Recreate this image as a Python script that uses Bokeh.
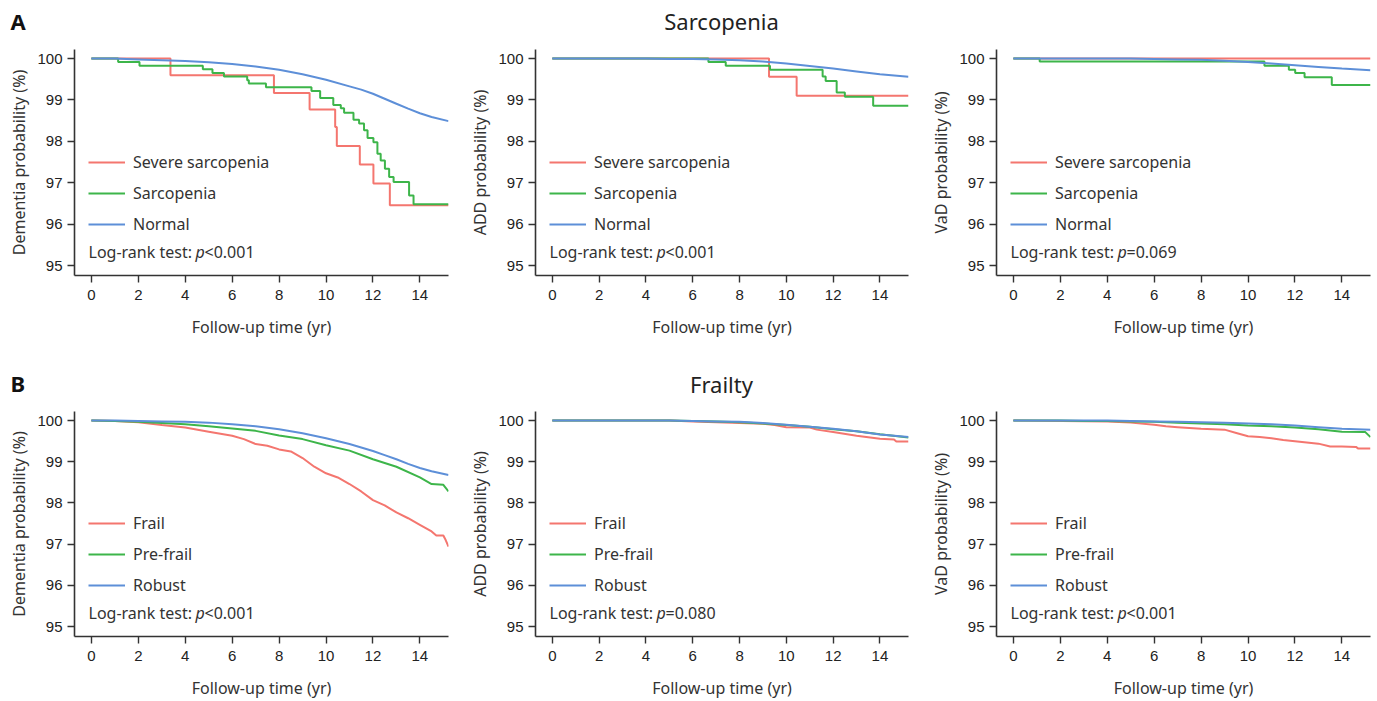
from bokeh.plotting import figure
from bokeh.models import Range1d, FixedTicker, Legend, LegendItem, Label
from bokeh.layouts import row, column
from bokeh.embed import file_html
from bokeh.resources import INLINE

RED = "#F4766F"
GREEN = "#3DB54A"
BLUE = "#5D8FD8"
TXT = "#333333"

# ---------------- data ----------------
years = [0, 1, 2, 3, 4, 5, 6, 7, 8, 9, 10, 11, 12, 13, 14, 15.22]
x_ticks = [0, 2, 4, 6, 8, 10, 12, 14]
y_ticks = [95, 96, 97, 98, 99, 100]

# A: Sarcopenia
a_labels = ["Severe sarcopenia", "Sarcopenia", "Normal"]
# Dementia
a1_sev_t = [0, 3.37, 7.78, 9.30, 10.39, 10.46, 11.44, 12.02, 12.72, 15.22]
a1_sev_y = [100, 99.60, 99.17, 98.77, 98.35, 97.89, 97.44, 96.98, 96.46, 96.46]
a1_sar_t = [0, 1.14, 2.05, 4.75, 5.16, 5.65, 6.64, 6.71, 7.44, 9.38, 9.75, 10.31, 10.63, 10.77,
            11.17, 11.41, 11.62, 11.77, 12.02, 12.19, 12.33, 12.51, 12.69, 12.88, 13.54, 13.73, 15.22]
a1_sar_y = [100, 99.92, 99.83, 99.74, 99.65, 99.57, 99.48, 99.40, 99.31, 99.22, 99.05, 98.88, 98.80, 98.69,
            98.52, 98.43, 98.27, 98.08, 97.98, 97.70, 97.54, 97.34, 97.14, 97.02, 96.69, 96.48, 96.48]
a1_nor_t = [0, 1, 2, 3, 4, 5, 6, 7, 8, 9, 10, 11, 11.5, 12, 12.5, 13, 13.5, 14, 14.5, 15.22]
a1_nor_y = [100, 100, 99.98, 99.96, 99.94, 99.91, 99.87, 99.81, 99.73, 99.62, 99.49, 99.33, 99.25, 99.15,
            99.03, 98.91, 98.79, 98.68, 98.59, 98.49]
# ADD
a2_sev_t = [0, 9.26, 10.44, 15.22]
a2_sev_y = [100, 99.56, 99.10, 99.10]
a2_sar_t = [0, 6.67, 7.41, 9.30, 11.55, 11.68, 12.15, 12.50, 13.71, 15.22]
a2_sar_y = [100, 99.92, 99.83, 99.73, 99.57, 99.46, 99.18, 99.08, 98.86, 98.86]
a2_nor_y = [100, 100, 100, 100, 100, 99.99, 99.99, 99.98, 99.96, 99.93, 99.88, 99.82, 99.76, 99.69, 99.62, 99.56]
# VaD
a3_sev_t = [0, 15.22]
a3_sev_y = [100, 100]
a3_sar_t = [0, 1.12, 10.70, 11.74, 12.01, 12.41, 13.57, 15.22]
a3_sar_y = [100, 99.93, 99.83, 99.73, 99.65, 99.55, 99.36, 99.36]
a3_nor_y = [100, 100, 100, 100, 100, 100, 99.99, 99.98, 99.97, 99.95, 99.92, 99.88, 99.84, 99.80, 99.76, 99.72]

# B: Frailty
b_labels = ["Frail", "Pre-frail", "Robust"]
# Dementia
b1_fra_t = [0, 1, 2, 3, 4, 5, 6, 6.5, 7, 7.5, 8, 8.5, 9, 9.5, 10, 10.5, 11, 11.5, 12, 12.5, 13, 13.5,
            14, 14.5, 14.7, 15.0, 15.1, 15.22]
b1_fra_y = [100, 99.99, 99.96, 99.89, 99.83, 99.73, 99.63, 99.55, 99.43, 99.39, 99.30, 99.25, 99.09, 98.88,
            98.72, 98.62, 98.46, 98.28, 98.07, 97.94, 97.77, 97.63, 97.47, 97.31, 97.21, 97.21, 97.10, 96.94]
b1_pre_t = [0, 1, 2, 3, 4, 5, 6, 7, 8, 9, 10, 11, 12, 13, 14, 14.5, 15.0, 15.22]
b1_pre_y = [100, 99.99, 99.97, 99.94, 99.91, 99.86, 99.81, 99.75, 99.64, 99.55, 99.40, 99.27, 99.06, 98.88,
            98.62, 98.46, 98.44, 98.28]
b1_rob_t = [0, 1, 2, 3, 4, 5, 6, 7, 8, 9, 10, 11, 12, 12.5, 13, 13.5, 14, 14.5, 15.22]
b1_rob_y = [100, 100, 99.99, 99.98, 99.97, 99.95, 99.91, 99.86, 99.79, 99.69, 99.57, 99.43, 99.26, 99.16,
            99.06, 98.95, 98.85, 98.77, 98.68]
# ADD
b2_fra_t = [0, 5, 6, 7, 8, 9, 9.5, 10, 11, 11.3, 12, 13, 14, 14.6, 14.7, 15.22]
b2_fra_y = [100, 100, 99.98, 99.96, 99.94, 99.92, 99.89, 99.84, 99.83, 99.78, 99.72, 99.63, 99.56, 99.54, 99.49, 99.49]
b2_pre_y = [100, 100, 100, 100, 100, 100, 99.99, 99.98, 99.96, 99.93, 99.89, 99.85, 99.79, 99.74, 99.67, 99.59]
b2_rob_y = [100, 100, 100, 100, 100, 100, 99.99, 99.98, 99.97, 99.94, 99.90, 99.85, 99.80, 99.74, 99.66, 99.60]
# VaD
b3_fra_t = [0, 4, 5, 6, 6.5, 7, 8, 9, 9.5, 10, 10.5, 11, 11.5, 12, 12.5, 13, 13.5, 14, 14.6, 14.7, 15.22]
b3_fra_y = [100, 99.98, 99.95, 99.90, 99.86, 99.84, 99.80, 99.78, 99.70, 99.62, 99.60, 99.57, 99.53, 99.50,
            99.47, 99.44, 99.37, 99.37, 99.36, 99.32, 99.32]
b3_pre_t = [0, 1, 2, 3, 4, 5, 6, 7, 8, 9, 10, 11, 12, 13, 14, 15.0, 15.22]
b3_pre_y = [100, 100, 100, 99.99, 99.99, 99.98, 99.97, 99.95, 99.93, 99.91, 99.88, 99.86, 99.83, 99.79, 99.73, 99.72, 99.60]
b3_rob_y = [100, 100, 100, 100, 100, 99.99, 99.98, 99.97, 99.96, 99.95, 99.93, 99.91, 99.88, 99.84, 99.80, 99.78]

FRAME_H = 226
PAGE_W = 1377


def make_header(height, letter, title, letter_y, title_y):
    h = figure(width=PAGE_W, height=height, output_backend="svg", toolbar_location=None,
               x_range=Range1d(0, PAGE_W), y_range=Range1d(height, 0),
               x_axis_type=None, y_axis_type=None,
               min_border_left=0, min_border_right=0, min_border_top=0, min_border_bottom=0)
    h.outline_line_color = None
    h.xgrid.visible = False
    h.ygrid.visible = False
    h.add_layout(Label(x=10, y=letter_y, text=letter, text_align="left", text_baseline="middle",
                       text_font="Noto Sans", text_font_style="bold", text_font_size="22px",
                       text_color="#111111"))
    h.add_layout(Label(x=721, y=title_y, text=title, text_align="center", text_baseline="middle",
                       text_font="Noto Sans", text_font_size="22px", text_color="#222222"))
    return h


def make_panel(width, height, bl, br, bt, ylabel, series, labels, pv_op, pv_val):
    bb = height - bt - FRAME_H
    p = figure(width=width, height=height, output_backend="svg", toolbar_location=None,
               x_range=Range1d(-0.72, 15.22), y_range=Range1d(94.76, 100.22),
               min_border_left=bl, min_border_right=br, min_border_top=bt, min_border_bottom=bb,
               x_axis_label="Follow-up time (yr)", y_axis_label=ylabel)
    p.outline_line_color = None
    p.xgrid.visible = False
    p.ygrid.visible = False
    p.xaxis.ticker = FixedTicker(ticks=x_ticks)
    p.yaxis.ticker = FixedTicker(ticks=y_ticks)
    for ax in (p.xaxis[0], p.yaxis[0]):
        ax.axis_line_color = TXT
        ax.axis_line_width = 1.6
        ax.major_tick_line_color = TXT
        ax.major_tick_line_width = 1.4
        ax.major_tick_out = 7
        ax.major_tick_in = 0
        ax.minor_tick_line_color = None
        ax.major_label_text_font = "Liberation Sans"
        ax.major_label_text_font_size = "15px"
        ax.major_label_text_color = "#222222"
        ax.axis_label_text_font = "Noto Sans"
        ax.axis_label_text_font_size = "16px"
        ax.axis_label_text_font_style = "normal"
        ax.axis_label_text_color = TXT
    p.xaxis.major_label_standoff = 7
    p.xaxis.axis_label_standoff = 13
    p.yaxis.major_label_standoff = 5
    p.yaxis.axis_label_standoff = 4

    colors = [RED, GREEN, BLUE]
    rends = []
    for (kind, t, y), c in zip(series, colors):
        if kind == "step":
            r = p.step(t, y, mode="after", line_color=c, line_width=2)
        else:
            r = p.line(t, y, line_color=c, line_width=2)
        rends.append(r)

    legend = Legend(items=[LegendItem(label=l, renderers=[r]) for l, r in zip(labels, rends)],
                    location=(0, 26), padding=14, margin=0, spacing=9,
                    glyph_width=37, glyph_height=20, label_height=20, label_standoff=8,
                    label_text_font="Noto Sans", label_text_font_size="16px",
                    label_text_color=TXT, background_fill_alpha=0, border_line_alpha=0)
    p.add_layout(legend)

    common = dict(x_units="screen", y_units="screen", text_baseline="middle",
                  text_font="Noto Sans", text_font_size="16px", text_color=TXT)
    p.add_layout(Label(x=14, y=24, text="Log-rank test:", **common))
    p.add_layout(Label(x=121, y=24, text="p", text_font_style="italic", **common))
    p.add_layout(Label(x=130, y=24, text=pv_op + pv_val, **common))
    return p


H1, H2 = 320, 300
# panel widths: frames at x 74-448, 535-908, 996-1370
W1, W2, W3 = 461, 461, 455
hdr1 = make_header(41, "A", "Sarcopenia", 20, 20)
f1 = make_panel(W1, H1, 74, 13, 8, "Dementia probability (%)",
                [("step", a1_sev_t, a1_sev_y), ("step", a1_sar_t, a1_sar_y), ("line", a1_nor_t, a1_nor_y)],
                a_labels, "<", "0.001")
f2 = make_panel(W2, H1, 74, 14, 8, "ADD probability (%)",
                [("step", a2_sev_t, a2_sev_y), ("step", a2_sar_t, a2_sar_y), ("line", years, a2_nor_y)],
                a_labels, "<", "0.001")
f3 = make_panel(W3, H1, 74, 7, 8, "VaD probability (%)",
                [("step", a3_sev_t, a3_sev_y), ("step", a3_sar_t, a3_sar_y), ("line", years, a3_nor_y)],
                a_labels, "=", "0.069")

hdr2 = make_header(40, "B", "Frailty", 21, 22)
f4 = make_panel(W1, H2, 74, 13, 10, "Dementia probability (%)",
                [("line", b1_fra_t, b1_fra_y), ("line", b1_pre_t, b1_pre_y), ("line", b1_rob_t, b1_rob_y)],
                b_labels, "<", "0.001")
f5 = make_panel(W2, H2, 74, 14, 10, "ADD probability (%)",
                [("line", b2_fra_t, b2_fra_y), ("line", years, b2_pre_y), ("line", years, b2_rob_y)],
                b_labels, "=", "0.080")
f6 = make_panel(W3, H2, 74, 7, 10, "VaD probability (%)",
                [("line", b3_fra_t, b3_fra_y), ("line", b3_pre_t, b3_pre_y), ("line", years, b3_rob_y)],
                b_labels, "<", "0.001")

layout = column(hdr1, row(f1, f2, f3), hdr2, row(f4, f5, f6))
open("out.html", "w").write(file_html(layout, INLINE))
